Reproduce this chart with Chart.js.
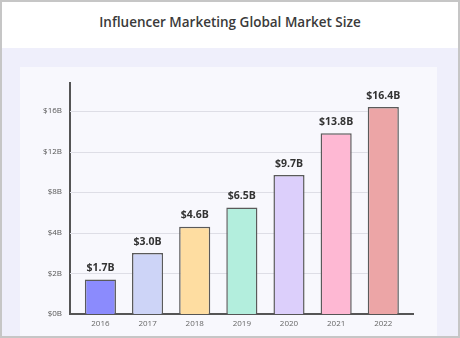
<!DOCTYPE html>
<html>
<head>
<meta charset="utf-8">
<script src="https://cdn.jsdelivr.net/npm/chart.js@4"></script>
<style>
  html, body { margin: 0; padding: 0; }
  body { width: 460px; height: 338px; position: relative; overflow: hidden; background: #ffffff; font-family: "Open Sans", sans-serif; }
  #frame { position: absolute; left: 0; top: 0; width: 456px; height: 334px; border: 2px solid #c6c6c6; background: #ffffff; }
  #band { position: absolute; left: 0; top: 46px; width: 456px; height: 288px; background: #efeffb; }
  #card { position: absolute; left: 18px; top: 65px; width: 417px; height: 269px; background: #f8f8fd; }
  #title { position: absolute; left: 0; top: 11px; width: 456px; text-align: center; font-size: 13.5px; font-weight: 600; color: #3a3a3a; }
  #wrap { position: absolute; left: 20px; top: 67px; width: 417px; height: 268px; }
</style>
</head>
<body>
<div id="frame">
  <div id="title">Influencer Marketing Global Market Size</div>
  <div id="band"></div>
  <div id="card"></div>
</div>
<div id="wrap"><canvas id="c" width="417" height="268"></canvas></div>
<script>
// ---- data ----
const years = ['2016', '2017', '2018', '2019', '2020', '2021', '2022'];
const marketSize = [1.7, 3.0, 4.6, 6.5, 9.7, 13.8, 16.4];
const valueLabels = ['$1.7B', '$3.0B', '$4.6B', '$6.5B', '$9.7B', '$13.8B', '$16.4B'];
const yTickValues = [0, 2, 4, 8, 12, 16];
const yTickLabels = ['$0B', '$2B', '$4B', '$8B', '$12B', '$16B'];
const barColors = ['#8b8bfd', '#cdd4f7', '#fedda1', '#b3eedd', '#dccffb', '#feb8d3', '#eca5a6'];

// piecewise axis: the reference spaces its ticks (0,2,4,8,12,16) evenly
function toU(v) {
  const t = yTickValues, n = t.length - 1;
  if (v <= t[0]) return (v - t[0]) / (t[1] - t[0]);
  for (let i = 1; i <= n; i++) {
    if (v <= t[i]) return i - 1 + (v - t[i - 1]) / (t[i] - t[i - 1]);
  }
  return n + (v - t[n]) / (t[n] - t[n - 1]);
}
function fromU(u) {
  const t = yTickValues, n = t.length - 1;
  if (u <= 0) return t[0] + u * (t[1] - t[0]);
  if (u >= n) return t[n] + (u - n) * (t[n] - t[n - 1]);
  const i = Math.floor(u);
  return t[i] + (u - i) * (t[i + 1] - t[i]);
}
class SteppedScale extends Chart.LinearScale {
  buildTicks() {
    return yTickValues.filter(v => v >= this.min && v <= this.max).map(v => ({ value: v }));
  }
  getPixelForValue(v) {
    const a = toU(this.min), b = toU(this.max);
    return this.getPixelForDecimal((toU(v) - a) / (b - a));
  }
  getValueForPixel(p) {
    const a = toU(this.min), b = toU(this.max);
    return fromU(a + this.getDecimalForPixel(p) * (b - a));
  }
}
SteppedScale.id = 'stepped';
SteppedScale.defaults = {};
Chart.register(SteppedScale);

// gridlines run from the y axis to the left edge of the last bar
const gridPlugin = {
  id: 'shortGrid',
  beforeDatasetsDraw(chart) {
    const ctx = chart.ctx;
    const y = chart.scales.y;
    const bars = chart.getDatasetMeta(0).data;
    const last = bars[bars.length - 1];
    const xEnd = last.x - last.width / 2;
    const xStart = chart.chartArea.left;
    ctx.save();
    ctx.strokeStyle = '#dedee6';
    ctx.lineWidth = 1.2;
    y.ticks.forEach(t => {
      if (t.value === 0) return;
      const py = Math.round(y.getPixelForValue(t.value)) + 0.5;
      ctx.beginPath();
      ctx.moveTo(xStart, py);
      ctx.lineTo(xEnd, py);
      ctx.stroke();
    });
    ctx.restore();
  }
};

const valueLabelPlugin = {
  id: 'valueLabels',
  afterDatasetsDraw(chart) {
    const ctx = chart.ctx;
    const meta = chart.getDatasetMeta(0);
    ctx.save();
    ctx.font = 'bold 10.5px "Open Sans", sans-serif';
    ctx.fillStyle = '#333333';
    ctx.textAlign = 'center';
    ctx.textBaseline = 'bottom';
    meta.data.forEach((bar, i) => {
      ctx.fillText(valueLabels[i], bar.x, bar.y - 6);
    });
    ctx.restore();
  }
};

new Chart(document.getElementById('c'), {
  type: 'bar',
  data: {
    datasets: [{
      data: marketSize.map((v, i) => ({ x: i, y: v })),
      backgroundColor: barColors,
      borderColor: '#5a5a5a',
      borderWidth: 1.5,
      borderSkipped: 'bottom',
      barPercentage: 0.66,
      categoryPercentage: 1
    }]
  },
  options: {
    responsive: false,
    animation: false,
    events: [],
    layout: { padding: { left: 0, top: 16, right: 24, bottom: 0 } },
    plugins: { legend: { display: false }, tooltip: { enabled: false } },
    scales: {
      x: {
        type: 'linear',
        offset: false,
        min: -0.645,
        max: 6.63,
        grid: { display: false, drawTicks: false },
        border: { display: true, color: '#555555', width: 2 },
        ticks: {
          stepSize: 1,
          includeBounds: false,
          autoSkip: false,
          maxRotation: 0,
          padding: 5,
          color: '#666666',
          font: { family: '"Open Sans", sans-serif', size: 8 },
          callback: (v) => (Number.isInteger(v) && years[v] !== undefined) ? years[v] : ''
        },
        afterFit: (s) => { s.height = 21; }
      },
      y: {
        type: 'stepped',
        min: 0,
        max: 18.76,
        grid: { display: false, drawTicks: false },
        border: { display: true, color: '#555555', width: 2 },
        ticks: {
          padding: 8,
          color: '#555555',
          font: { family: '"Open Sans", sans-serif', size: 8 },
          callback: (v) => {
            const i = yTickValues.indexOf(v);
            return i >= 0 ? yTickLabels[i] : '';
          }
        },
        afterFit: (s) => { s.width = 50; }
      }
    }
  },
  plugins: [gridPlugin, valueLabelPlugin]
});
</script>
</body>
</html>
